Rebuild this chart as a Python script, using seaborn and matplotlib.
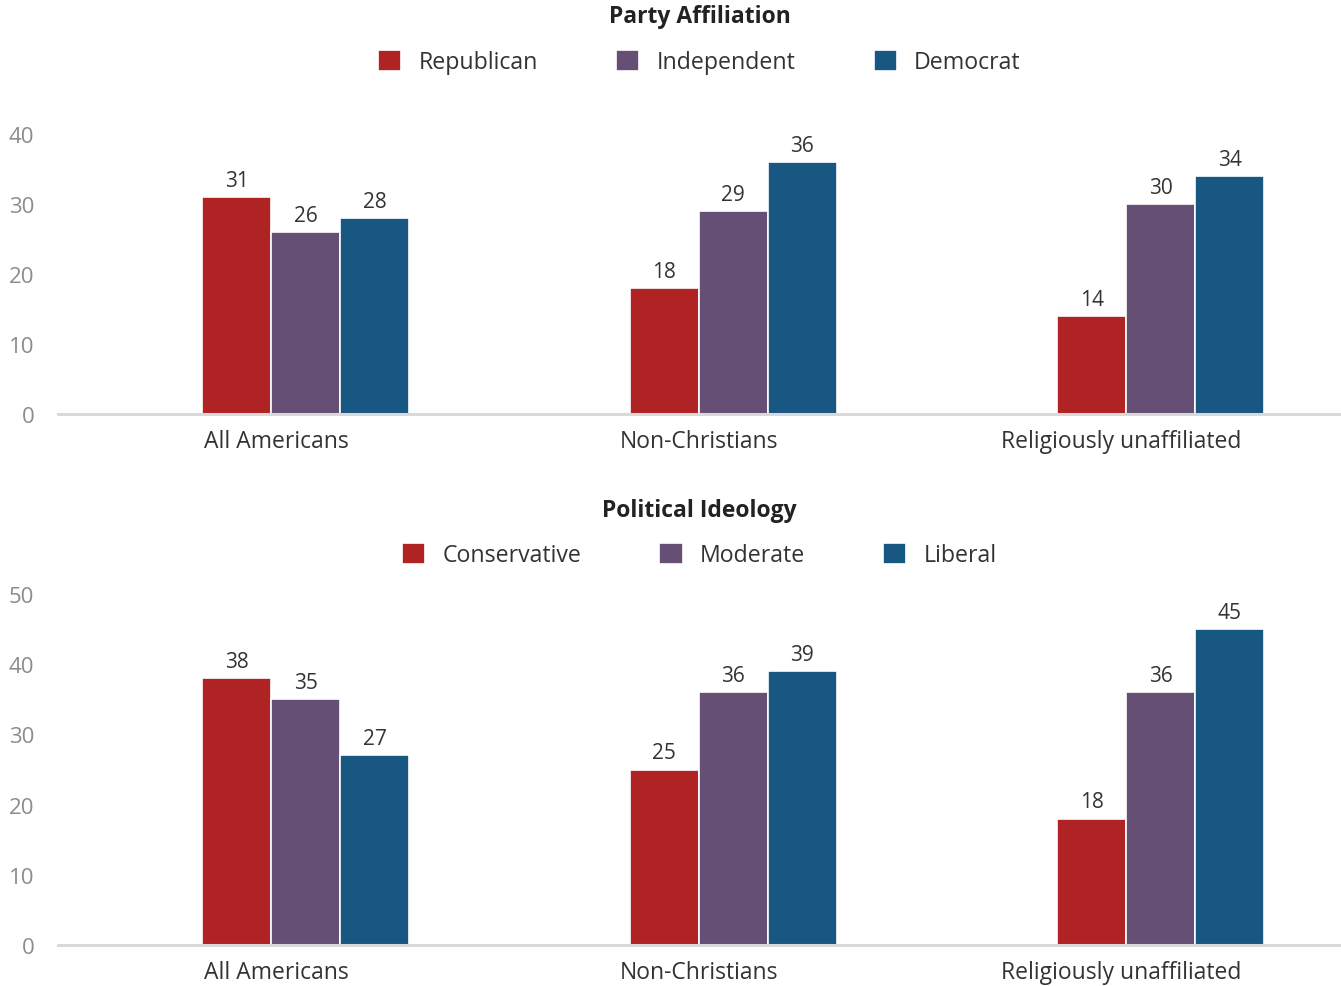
import matplotlib
matplotlib.use("Agg")
import matplotlib.pyplot as plt
import seaborn as sns
import pandas as pd

# Groups shown along the x axis
groups = ["All Americans", "Non-Christians", "Religiously unaffiliated"]

# Party affiliation (%)
party_labels = ["Republican", "Independent", "Democrat"]
republican = [31, 18, 14]
independent = [26, 29, 30]
democrat = [28, 36, 34]

# Political ideology (%)
ideology_labels = ["Conservative", "Moderate", "Liberal"]
conservative = [38, 25, 18]
moderate = [35, 36, 36]
liberal = [27, 39, 45]

party_ticks = [0, 10, 20, 30, 40]
ideology_ticks = [0, 10, 20, 30, 40, 50]

colors = ["#B02324", "#654F74", "#195783"]

# category labels sit a little left of their bar groups
label_offsets = [-0.068, -0.081, -0.094]
band_shift = 0.079

sns.set_theme(style="white")
plt.rcParams["font.family"] = ["Open Sans", "DejaVu Sans"]


def long_frame(labels, series):
    rows = []
    for lab, vals in zip(labels, series):
        for g, v in zip(groups, vals):
            rows.append({"group": g, "series": lab, "value": v})
    return pd.DataFrame(rows)


fig = plt.figure(figsize=(13.41, 9.87), dpi=100)
ax_top = fig.add_axes([0.0433, 0.5795, 0.9567, 0.2837])
ax_bot = fig.add_axes([0.0433, 0.0415, 0.9567, 0.3557])


def draw_panel(ax, df, labels, ticks, title, title_y, legend_y):
    sns.barplot(data=df, x="group", y="value", hue="series", hue_order=labels,
                order=groups, palette=colors, width=0.484, ax=ax,
                edgecolor="white", linewidth=1.2, saturation=1, errorbar=None)
    for cont in ax.containers:
        ax.bar_label(cont, fmt="%d", padding=4.5, fontsize=15, color="#333333")
    ax.set_ylim(ticks[0], ticks[-1])
    ax.set_yticks(ticks)
    ax.set_xlim(-0.5 - band_shift, 2.5 - band_shift)
    ax.set_xticks([i + off for i, off in enumerate(label_offsets)])
    ax.set_xticklabels(groups)
    ax.set_xlabel("")
    ax.set_ylabel("")
    for s in ["top", "right", "left"]:
        ax.spines[s].set_visible(False)
    ax.spines["bottom"].set_color("#d9d9d9")
    ax.spines["bottom"].set_linewidth(2.2)
    ax.tick_params(axis="y", length=0, pad=17, labelsize=16, labelcolor="#8c8c8c")
    ax.tick_params(axis="x", length=0, pad=11, labelsize=16.5, labelcolor="#333333")
    handles, labs = ax.get_legend_handles_labels()
    if ax.get_legend() is not None:
        ax.get_legend().remove()
    fig.legend(handles, labs, loc="center", bbox_to_anchor=(0.5216, legend_y),
               ncol=3, frameon=False, fontsize=16.7, labelcolor="#333333",
               handlelength=1.0, handleheight=1.0, handletextpad=0.75,
               columnspacing=3.36)
    fig.text(0.5216, title_y, title, ha="center", va="center", fontsize=16.5,
             fontweight="bold", color="#222222")


draw_panel(ax_top, long_frame(party_labels, [republican, independent, democrat]),
           party_labels, party_ticks, "Party Affiliation", 0.983, 0.936)
draw_panel(ax_bot, long_frame(ideology_labels, [conservative, moderate, liberal]),
           ideology_labels, ideology_ticks, "Political Ideology", 0.4823, 0.4367)

fig.savefig("out.png", dpi=100)
